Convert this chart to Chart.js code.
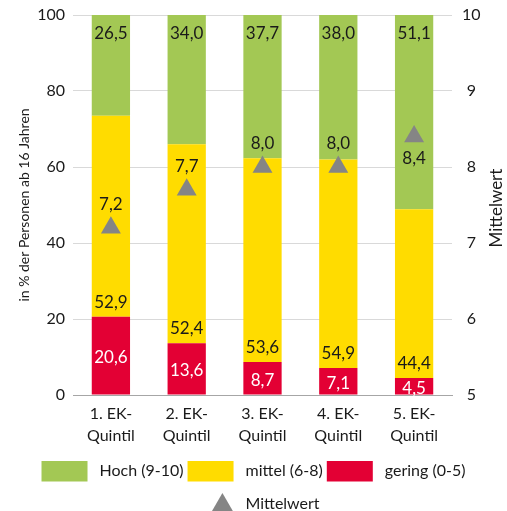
<!DOCTYPE html>
<html>
<head>
<meta charset="utf-8">
<script src="https://cdn.jsdelivr.net/npm/chart.js@4/dist/chart.umd.min.js"></script>
<style>
  html, body { margin: 0; padding: 0; background: #ffffff; }
  #wrap { width: 507px; height: 511px; position: relative; }
</style>
</head>
<body>
<div id="wrap"><canvas id="c" width="507" height="511"></canvas></div>
<script>
const categories = [["1. EK-", "Quintil"], ["2. EK-", "Quintil"], ["3. EK-", "Quintil"], ["4. EK-", "Quintil"], ["5. EK-", "Quintil"]];
const gering = [20.6, 13.6, 8.7, 7.1, 4.5];
const mittel = [52.9, 52.4, 53.6, 54.9, 44.4];
const hoch = [26.5, 34.0, 37.7, 38.0, 51.1];
const mittelwert = [7.2, 7.7, 8.0, 8.0, 8.4];
const leftTicks = [0, 20, 40, 60, 80, 100];
const rightTicks = [5, 6, 7, 8, 9, 10];
const seriesNames = ["gering (0-5)", "mittel (6-8)", "Hoch (9-10)", "Mittelwert"];
const leftTitle = "in % der Personen ab 16 Jahren";
const rightTitle = "Mittelwert";

const FONT = "Lato";
const GREEN = "#A3C854", YELLOW = "#FFDC00", RED = "#E30034", GREY = "#858585", TEXT = "#1a1a1a";
const fmt = v => v.toFixed(1).replace(".", ",");

const valueLabels = {
  id: "valueLabels",
  afterDatasetsDraw(chart) {
    const ctx = chart.ctx;
    ctx.save();
    ctx.font = "17px " + FONT;
    ctx.textAlign = "center";
    ctx.textBaseline = "middle";
    const m0 = chart.getDatasetMeta(0), m1 = chart.getDatasetMeta(1), m2 = chart.getDatasetMeta(2), m3 = chart.getDatasetMeta(3);
    m0.data.forEach((b, i) => { ctx.fillStyle = "#ffffff"; ctx.fillText(fmt(gering[i]), b.x, (b.y + b.base) / 2 + 2); });
    m1.data.forEach((b, i) => { ctx.fillStyle = TEXT; ctx.fillText(fmt(mittel[i]), b.x, b.base - 14.5); });
    m2.data.forEach((b, i) => { ctx.fillStyle = TEXT; ctx.fillText(fmt(hoch[i]), b.x, b.y + 19); });
    const offs = [-23, -23, -23, -23, 22];
    m3.data.forEach((p, i) => { ctx.fillStyle = TEXT; ctx.fillText(fmt(mittelwert[i]), p.x, p.y + offs[i]); });
    ctx.restore();
  }
};

// right axis title, reading bottom-to-top like the reference
const rightAxisTitle = {
  id: "rightAxisTitle",
  afterDraw(chart) {
    const ctx = chart.ctx;
    const a = chart.chartArea;
    ctx.save();
    ctx.font = "17px " + FONT;
    ctx.fillStyle = TEXT;
    ctx.textAlign = "center";
    ctx.textBaseline = "alphabetic";
    ctx.translate(chart.scales.y2.right - 5.5, (a.top + a.bottom) / 2 + 3);
    ctx.rotate(-Math.PI / 2);
    ctx.fillText(rightTitle, 0, 0);
    ctx.restore();
  }
};

const legendBoxes = {
  id: "legendBoxes",
  afterDraw(chart) {
    const lg = chart.legend;
    if (!lg || !lg.legendHitBoxes) return;
    const ctx = chart.ctx;
    ctx.save();
    const fills = [GREEN, YELLOW, RED];
    lg.legendHitBoxes.forEach((hb, i) => {
      const cy = hb.top + hb.height / 2;
      if (i < 3) {
        ctx.fillStyle = fills[i];
        ctx.fillRect(hb.left, cy - 10, 46, 20.5);
      } else {
        const cx = hb.left + 35;
        ctx.fillStyle = GREY;
        ctx.beginPath();
        ctx.moveTo(cx, cy - 11);
        ctx.lineTo(cx + 11, cy + 8);
        ctx.lineTo(cx - 11, cy + 8);
        ctx.closePath();
        ctx.fill();
      }
    });
    ctx.restore();
  }
};

const legendOrder = [2, 1, 0, 3];
const noPad = s => { s.paddingTop = 0; s.paddingBottom = 0; };

new Chart(document.getElementById("c"), {
  data: {
    labels: categories,
    datasets: [
      { type: "bar", label: seriesNames[0], data: gering, backgroundColor: RED, yAxisID: "y", stack: "s", order: 2 },
      { type: "bar", label: seriesNames[1], data: mittel, backgroundColor: YELLOW, yAxisID: "y", stack: "s", order: 2 },
      { type: "bar", label: seriesNames[2], data: hoch, backgroundColor: GREEN, yAxisID: "y", stack: "s", order: 2 },
      { type: "line", label: seriesNames[3], data: mittelwert, yAxisID: "y2", showLine: false,
        pointStyle: "triangle", pointRadius: 11.5, pointHoverRadius: 11.5,
        pointBackgroundColor: GREY, pointBorderColor: GREY, pointBorderWidth: 0, order: 1 }
    ]
  },
  options: {
    responsive: false,
    animation: false,
    devicePixelRatio: 1,
    layout: { padding: { top: 15, left: 0, right: 0, bottom: -17.5 } },
    datasets: { bar: { categoryPercentage: 1, barPercentage: 0.505 } },
    scales: {
      x: {
        stacked: true,
        grid: { display: false, drawTicks: false },
        border: { display: true, color: "#A6A6A6", width: 1 },
        ticks: { color: TEXT, font: { family: FONT, size: 16, lineHeight: 1.38 }, padding: 8, maxRotation: 0, autoSkip: false },
        afterFit(s) { s.height = 57.5; }
      },
      y: {
        stacked: true, position: "left", min: 0, max: 100,
        afterBuildTicks(s) { s.ticks = leftTicks.map(v => ({ value: v })); },
        grid: { color: "#D9D9D9", lineWidth: 1, drawTicks: false },
        border: { display: false },
        ticks: { color: TEXT, font: { family: FONT, size: 16 }, padding: 8 },
        title: { display: true, text: leftTitle, color: TEXT, font: { family: FONT, size: 14 }, padding: { top: 16, bottom: 0 } },
        afterFit(s) { s.width = 73; noPad(s); }
      },
      y2: {
        position: "right", min: 5, max: 10,
        afterBuildTicks(s) { s.ticks = rightTicks.map(v => ({ value: v })); },
        grid: { display: false, drawTicks: false },
        border: { display: false },
        ticks: { color: TEXT, font: { family: FONT, size: 16 }, padding: 10, crossAlign: "center" },
        title: { display: false },
        afterFit(s) { s.width = 55; noPad(s); }
      }
    },
    plugins: {
      tooltip: { enabled: false },
      legend: {
        position: "bottom",
        labels: {
          color: TEXT,
          font: { family: FONT, size: 16 },
          boxWidth: 50, boxHeight: 29, padding: 4,
          generateLabels(chart) {
            return legendOrder.map(i => ({
              text: seriesNames[i], datasetIndex: i, hidden: false,
              fillStyle: "rgba(0,0,0,0)", strokeStyle: "rgba(0,0,0,0)", lineWidth: 0,
              fontColor: TEXT
            }));
          }
        }
      }
    }
  },
  plugins: [valueLabels, rightAxisTitle, legendBoxes]
});
</script>
</body>
</html>
